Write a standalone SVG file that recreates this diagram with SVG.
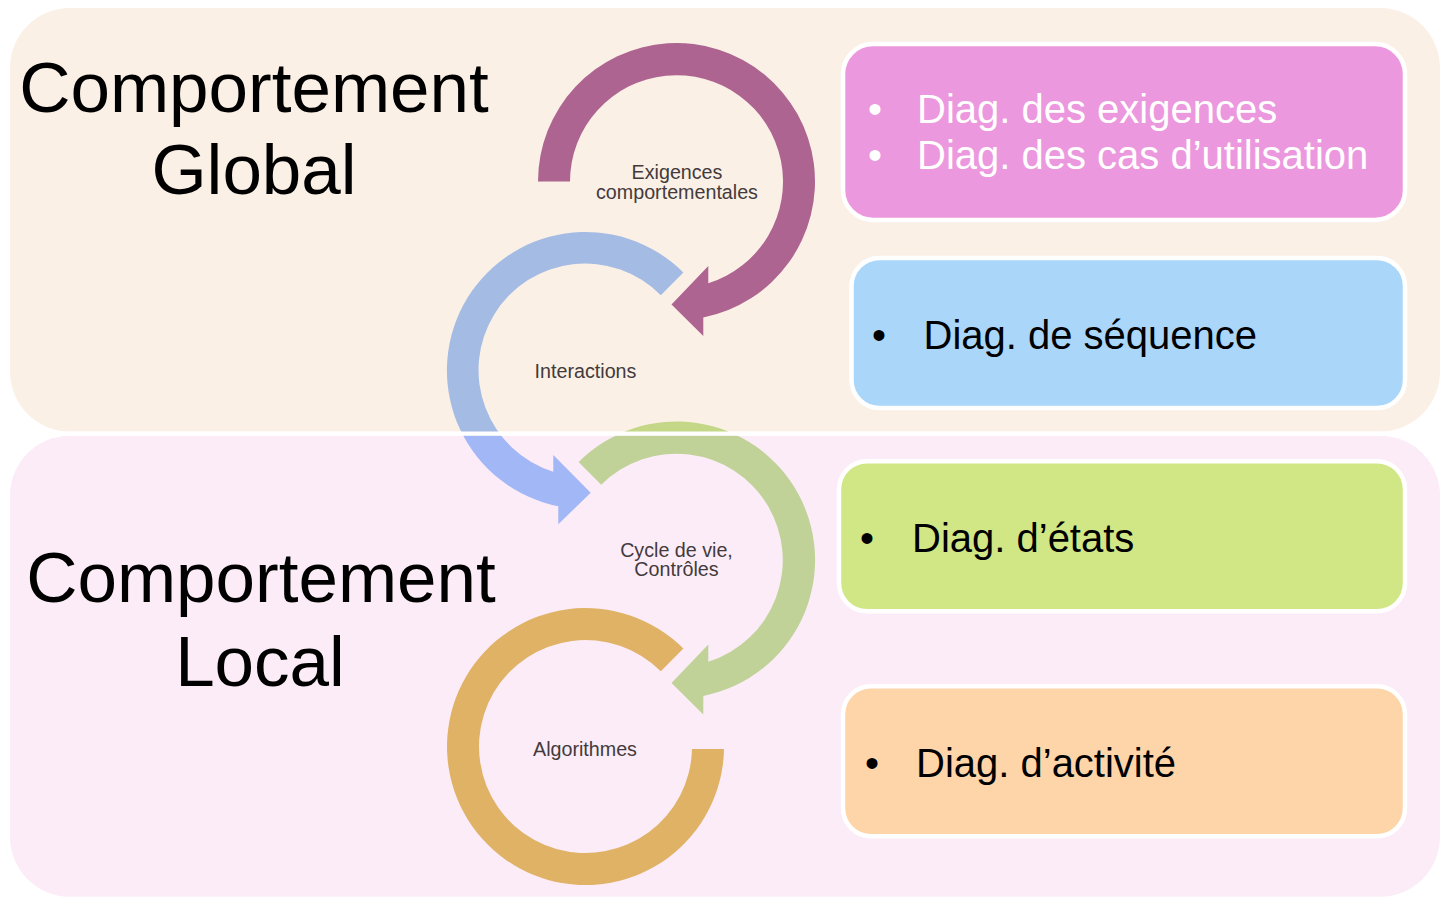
<svg xmlns="http://www.w3.org/2000/svg" width="1450" height="904" viewBox="0 0 1450 904">
  <defs>
    <style>
      .title { font-family: "Liberation Sans", Arial, sans-serif; font-size: 71px; fill: #000; text-anchor: middle; }
      .lbl { font-family: "Liberation Sans", Arial, sans-serif; font-size: 19.7px; fill: #433a3c; text-anchor: middle; }
      .box { stroke: #fff; stroke-width: 4.5; }
      .btxt { font-family: "Liberation Sans", Arial, sans-serif; font-size: 40px; fill: #000; }
      .bul { font-family: "Liberation Sans", Arial, sans-serif; font-size: 40px; text-anchor: middle; }
    </style>
    <linearGradient id="gBlue" gradientUnits="userSpaceOnUse" x1="0" y1="0" x2="0" y2="904">
      <stop offset="0.4790" stop-color="#A4BBE4"/>
      <stop offset="0.4790" stop-color="#A2B7F6"/>
    </linearGradient>
    <linearGradient id="gGreen" gradientUnits="userSpaceOnUse" x1="0" y1="0" x2="0" y2="904">
      <stop offset="0.4790" stop-color="#C3D786"/>
      <stop offset="0.4790" stop-color="#C0D297"/>
    </linearGradient>
  </defs>

  <rect width="1450" height="904" fill="#ffffff"/>

  <g id="panel-global">
    <rect x="10" y="8" width="1430" height="423.5" rx="60" ry="60" fill="#FBF0E6"/>
  </g>
  <g id="panel-local">
    <rect x="10" y="435.8" width="1430" height="461" rx="60" ry="60" fill="#FBECF7"/>
  </g>

  <g id="connectors">
    <path id="arc-exigences" fill="#AE6490" d="M 538 181.5 A 138.5 138.5 0 1 1 703.3 317.4 L 703.3 336 L 671.5 304.5 L 708.3 266 L 708.3 283.3 A 106.5 106.5 0 1 0 570 181.5 Z"/>
    <path id="arc-interactions" fill="url(#gBlue)" d="M 683.4 272.6 A 138.5 138.5 0 1 0 558.3 506.3 L 558.3 524.3 L 590.7 492.7 L 553.3 455 L 553.3 471.7 A 106.5 106.5 0 1 1 660.8 295.2 Z"/>
    <path id="arc-cycle" fill="url(#gGreen)" d="M 578.6 462.1 A 138.5 138.5 0 1 1 703.3 695.9 L 703.3 714.5 L 671.5 683 L 708.3 644.5 L 708.3 661.8 A 106.5 106.5 0 1 0 601.2 484.7 Z"/>
    <path id="arc-algorithmes" fill="#DFB266" d="M 724 749 A 138.5 138.5 0 1 1 683.4 648.6 L 660.8 671.2 A 106.5 106.5 0 1 0 692 749 Z"/>
  </g>

  <rect id="separator" x="0" y="431.5" width="1450" height="4.3" fill="#ffffff"/>

  <g id="title-global">
    <text class="title" x="254" y="112">Comportement</text>
    <text class="title" x="254" y="194">Global</text>
  </g>
  <g id="title-local">
    <text class="title" x="261" y="602">Comportement</text>
    <text class="title" x="260" y="686">Local</text>
  </g>

  <g id="node-exigences">
    <text class="lbl" x="677" y="179">Exigences</text>
    <text class="lbl" x="677" y="198.5">comportementales</text>
  </g>
  <g id="node-interactions">
    <text class="lbl" x="585.5" y="378.3">Interactions</text>
  </g>
  <g id="node-cycle">
    <text class="lbl" x="676.5" y="556.7">Cycle de vie,</text>
    <text class="lbl" x="676.5" y="576">Contrôles</text>
  </g>
  <g id="node-algorithmes">
    <text class="lbl" x="585" y="755.7">Algorithmes</text>
  </g>

  <g id="box-exigences">
    <rect class="box" x="843" y="44" width="562" height="176" rx="30" ry="30" fill="#EC98DE"/>
    <text class="bul" x="875" y="123" fill="#fff">•</text>
    <text class="btxt" x="917" y="123" style="fill:#fff">Diag. des exigences</text>
    <text class="bul" x="875" y="169.3" fill="#fff">•</text>
    <text class="btxt" x="917" y="169.3" style="fill:#fff">Diag. des cas d’utilisation</text>
  </g>
  <g id="box-sequence">
    <rect class="box" x="851.5" y="258" width="553.5" height="150" rx="28" ry="28" fill="#AAD6FA"/>
    <text class="bul" x="879" y="349" fill="#000">•</text>
    <text class="btxt" x="923.5" y="349">Diag. de séquence</text>
  </g>
  <g id="box-etats">
    <rect class="box" x="839" y="461.3" width="566" height="150" rx="28" ry="28" fill="#D1E785"/>
    <text class="bul" x="867" y="552" fill="#000">•</text>
    <text class="btxt" x="912" y="552">Diag. d’états</text>
  </g>
  <g id="box-activite">
    <rect class="box" x="843" y="686.3" width="562" height="150" rx="28" ry="28" fill="#FDD5A9"/>
    <text class="bul" x="872" y="777" fill="#000">•</text>
    <text class="btxt" x="916" y="777">Diag. d’activité</text>
  </g>
</svg>
